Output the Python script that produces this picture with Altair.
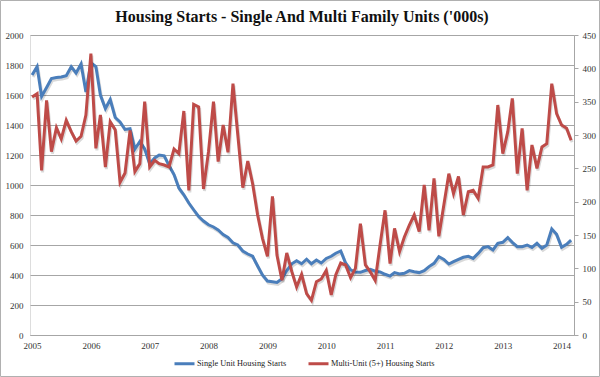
import altair as alt
import pandas as pd

S_NAME = "Single Unit Housing Starts"
M_NAME = "Multi-Unit (5+) Housing Starts"

# monthly, Jan 2005 .. Mar 2014
months = pd.date_range("2005-01-01", periods=111, freq="MS").strftime("%Y-%m-%d").tolist()

# single unit starts ('000s, left axis)
single = [1733, 1789, 1590, 1650, 1710, 1716, 1720, 1729, 1789, 1747, 1807, 1620,
          1815, 1790, 1600, 1510, 1570, 1450, 1420, 1370, 1375, 1240, 1290, 1240,
          1140, 1180, 1200, 1195, 1130, 1070, 980, 935, 880, 835, 790, 760,
          735, 720, 700, 670, 650, 615, 600, 560, 540, 525, 460, 400,
          360, 355, 350, 375, 430, 475, 495, 475, 505, 475, 500, 480,
          510, 525, 545, 560, 480, 435, 420, 418, 430, 438, 425, 420,
          405, 393, 416, 407, 411, 429, 422, 416, 429, 456, 478, 522,
          504, 473, 489, 504, 518, 525, 511, 544, 582, 589, 567, 611,
          618, 649, 618, 589, 589, 600, 584, 611, 578, 600, 707, 671,
          584, 604, 633]

# multi-unit (5+) starts ('000s, right axis)
multi = [357, 362, 247, 352, 275, 311, 294, 322, 305, 291, 298, 330,
         422, 280, 330, 252, 320, 308, 229, 243, 307, 245, 257, 350,
         252, 262, 257, 255, 252, 279, 272, 336, 217, 346, 342, 219,
         275, 350, 260, 315, 274, 377, 300, 221, 261, 227, 180, 145,
         118, 208, 120, 82, 123, 95, 72, 91, 62, 52, 80, 84,
         97, 60, 90, 108, 105, 86, 100, 167, 105, 95, 82, 135,
         187, 107, 160, 125, 147, 165, 180, 155, 225, 157, 235, 148,
         195, 242, 212, 238, 180, 215, 217, 205, 252, 252, 255, 345,
         272, 305, 355, 242, 310, 217, 285, 250, 282, 287, 377, 332,
         315, 310, 292]

left_ticks = list(range(0, 2001, 200))
right_ticks = list(range(0, 451, 50))

BLUE = "#4A7EBB"
RED = "#BE4B48"
GRID = "#A6A6A6"
FONT = "Liberation Serif"

df = pd.DataFrame({"date": months, "single": single, "multi": multi})
long = df.melt("date", var_name="key", value_name="value")
long["series"] = long["key"].map({"single": S_NAME, "multi": M_NAME})

x_enc = alt.X(
    "date:T",
    scale=alt.Scale(domain=["2004-12-19", "2014-03-19"]),
    axis=alt.Axis(format="%Y", tickCount={"interval": "year", "step": 1},
                  grid=False, domain=True, domainColor=GRID, ticks=False,
                  labelPadding=6, labelFontSize=9, labelColor="#333",
                  labelFont=FONT, title=None),
)

color_enc = alt.Color(
    "series:N",
    scale=alt.Scale(domain=[S_NAME, M_NAME], range=[BLUE, RED]),
    legend=alt.Legend(orient="none", legendX=143, legendY=317, direction="horizontal",
                      title=None, symbolType="stroke", symbolSize=400,
                      symbolStrokeWidth=3, labelOffset=1, columnPadding=15,
                      labelFont=FONT, labelFontSize=8.3, labelColor="#222"),
)

y_left = alt.Y(
    "value:Q",
    scale=alt.Scale(domain=[0, 2000]),
    axis=alt.Axis(orient="left", values=left_ticks, format="d", grid=True,
                  gridColor=GRID, gridWidth=1, domain=False, ticks=False,
                  labelPadding=7, labelFontSize=9, labelColor="#333",
                  labelFont=FONT, title=None),
)

y_right = alt.Y(
    "value:Q",
    scale=alt.Scale(domain=[0, 450]),
    axis=alt.Axis(orient="right", values=right_ticks, format="d", grid=False,
                  domain=True, domainColor=GRID, ticks=True, tickSize=4,
                  tickColor=GRID, labelPadding=4, labelFontSize=9,
                  labelColor="#333", labelFont=FONT, title=None),
)

base = alt.Chart(long)

single_shadow = base.transform_filter(alt.datum.key == "single").mark_line(
    color="#000000", opacity=0.15, strokeWidth=3, xOffset=1, yOffset=2
).encode(x=x_enc, y=y_left)
single_line = base.transform_filter(alt.datum.key == "single").mark_line(
    strokeWidth=3
).encode(x=x_enc, y=y_left, color=color_enc)

multi_shadow = base.transform_filter(alt.datum.key == "multi").mark_line(
    color="#000000", opacity=0.15, strokeWidth=3, xOffset=1, yOffset=2
).encode(x=x_enc, y=y_right)
multi_line = base.transform_filter(alt.datum.key == "multi").mark_line(
    strokeWidth=3
).encode(x=x_enc, y=y_right, color=color_enc)

left_layer = alt.layer(single_shadow, single_line)
right_layer = alt.layer(multi_shadow, multi_line)

frame = alt.Chart(pd.DataFrame({"a": [0]})).mark_rect(
    filled=False, stroke="#B0B0B0", strokeWidth=1
).encode(x=alt.value(-29.5), x2=alt.value(569.5), y=alt.value(-34.5), y2=alt.value(341.5))

chart = alt.layer(left_layer, right_layer, frame).resolve_scale(
    y="independent"
).properties(
    width=544,
    height=300,
    autosize=alt.AutoSizeParams(type="none"),
    padding={"left": 30, "top": 35, "right": 26, "bottom": 42},
    title=alt.TitleParams(
        "Housing Starts - Single And Multi Family Units ('000s)",
        font=FONT, fontSize=16, fontWeight="bold", color="#111111",
        anchor="middle", offset=-25,
    ),
).configure_view(stroke=None).configure(background="white")

chart.save("out.html", embed_options={"renderer": "svg", "actions": False})
